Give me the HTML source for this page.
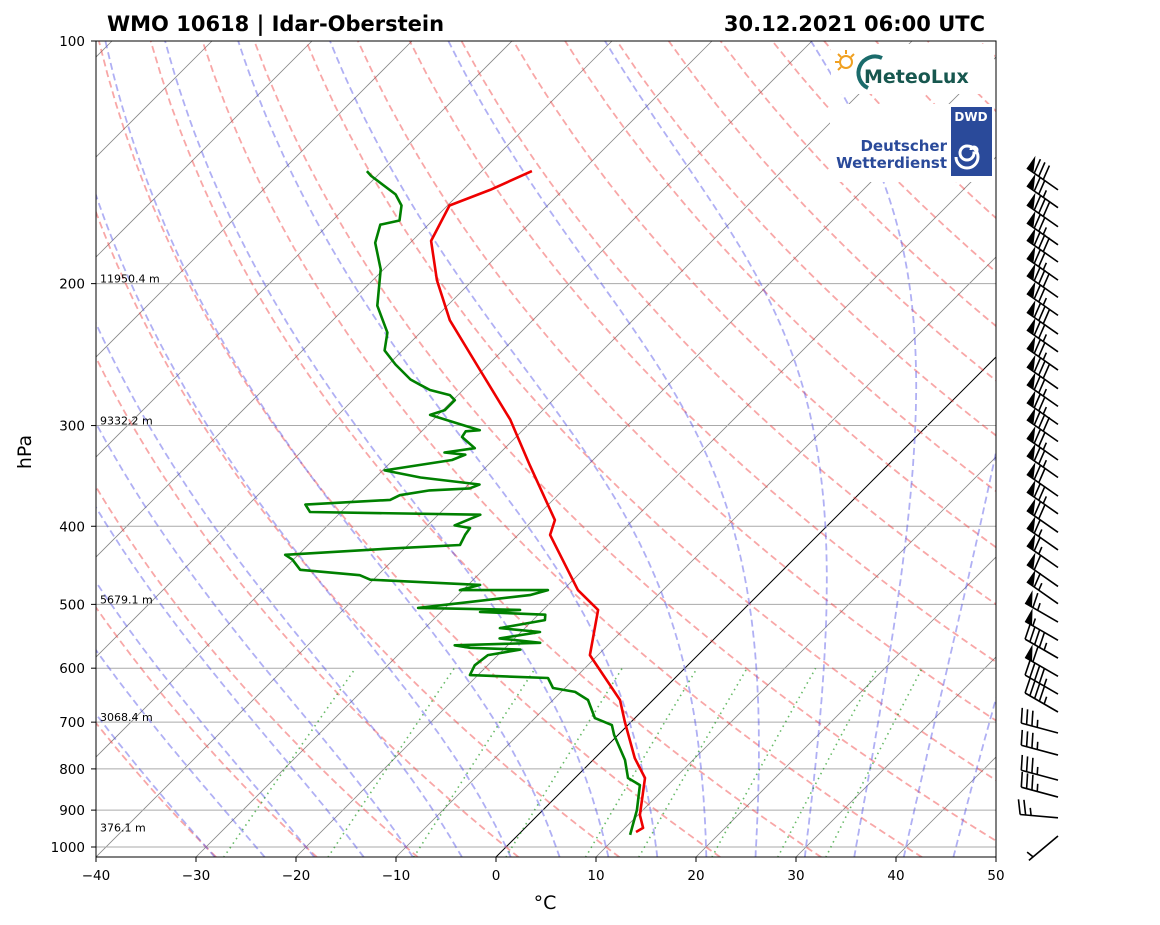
<!DOCTYPE html>
<html><head><meta charset="utf-8">
<style>
body{margin:0;background:#fff;}
svg{display:block;font-family:"DejaVu Sans","Liberation Sans",sans-serif;}
</style></head>
<body>
<svg id="chart" width="1160" height="925" viewBox="0 0 1160 925" xmlns="http://www.w3.org/2000/svg">
<defs><clipPath id="plotclip"><rect x="96" y="41" width="900" height="816"/></clipPath></defs>
<rect x="0" y="0" width="1160" height="925" fill="#fff"/>
<text x="107" y="31" font-size="21" font-weight="bold">WMO 10618 | Idar-Oberstein</text>
<text x="985" y="31" font-size="21" font-weight="bold" text-anchor="end">30.12.2021 06:00 UTC</text>
<g id="bg" clip-path="url(#plotclip)"></g>
<g id="series" clip-path="url(#plotclip)"></g>
<g id="logos">
  <rect x="831" y="44" width="163" height="50" fill="#fff"/>
  <g>
    <circle cx="846" cy="62" r="6" fill="none" stroke="#f0a020" stroke-width="2"/>
    <path d="M846 50v4M835 62h4M838 54l3 3M854 54l-3 3M838 70l3-3" stroke="#f0a020" stroke-width="2"/>
    <path d="M882 58 A16 16 0 1 0 868 88" fill="none" stroke="#1a6b6b" stroke-width="4"/>
    <text x="864" y="83" font-size="19" font-weight="bold" fill="#17574f">MeteoLux</text>
  </g>
  <rect x="830" y="104" width="164" height="78" fill="#fff"/>
  <g>
    <rect x="951" y="107" width="41" height="69" fill="#2a4a9a"/>
    <text x="971" y="121" font-size="12" font-weight="bold" fill="#fff" text-anchor="middle">DWD</text>
    <path d="M971 150 a3 3 0 1 1 3 3 a7 7 0 1 1 -7 -7 a11 11 0 1 1 -11 11" fill="none" stroke="#fff" stroke-width="3"/>
    <text x="947" y="151" font-size="15" font-weight="bold" fill="#2a4a9a" text-anchor="end">Deutscher</text>
    <text x="947" y="168" font-size="15" font-weight="bold" fill="#2a4a9a" text-anchor="end">Wetterdienst</text>
  </g>
</g>
<g id="axes"></g>
<g id="barbs"></g>
<text x="545" y="909" font-size="19" text-anchor="middle">°C</text>
<text transform="translate(31,452) rotate(-90)" font-size="19" text-anchor="middle">hPa</text>
</svg>
<script>
// ---- data ----
const tempP = [958,947,913,821,776,700,657,578,508,480,410,393,336,295,256,222,198,177,160,153,145];
const tempT = [11.5,11.8,10.2,7.0,4.0,-0.6,-3.3,-10.8,-14.5,-18.5,-26.8,-27.8,-35.8,-42.3,-50.3,-58.3,-63.6,-68.1,-69.8,-67.3,-65.0];
const dewP = [966,900,838,821,780,726,706,692,657,642,635,617,612,595,578,569,566,562,558,551,541,535,523,515,511,508,505,487,480,480,473,466,460,453,440,434,426,422,410,402,399,387,384,376,371,366,361,359,355,348,341,331,326,324,320,310,305,304,299,291,287,279,275,271,267,263,252,242,230,213,192,178,169,167,160,155,147,145];
const dewT = [11.2,9.4,7.2,5.3,3.2,-0.4,-1.6,-4.0,-6.5,-8.6,-11.2,-12.7,-20.8,-21.3,-21.0,-18.3,-23.5,-25.3,-17.0,-21.5,-18.1,-22.5,-18.8,-19.3,-26.1,-22.3,-32.7,-22.8,-21.5,-30.3,-28.8,-40.3,-41.8,-48.3,-50.1,-51.3,-41.0,-34.8,-35.3,-35.5,-37.3,-35.8,-53.1,-54.3,-46.3,-45.8,-43.3,-39.5,-38.9,-45.5,-49.8,-44.1,-43.3,-45.6,-43.0,-45.4,-45.6,-44.3,-46.8,-50.8,-49.8,-49.8,-50.8,-53.3,-54.8,-56.3,-59.3,-61.8,-63.3,-67.0,-70.3,-73.5,-74.8,-73.3,-74.6,-76.3,-80.6,-81.5];
const heightP = [200,300,500,700,960];
const heightLabels = ["11950.4 m","9332.2 m","5679.1 m","3068.4 m","376.1 m"];
const pTicks = [100,200,300,400,500,600,700,800,900,1000];
const tTicks = [-40,-30,-20,-10,0,10,20,30,40,50];
const dryT0 = [-30,-20,-10,0,10,20,30,40,50,60,70,80,90,100,110,120,130,140,150,160,170,180,190,200];
const moistT0 = [-30,-25,-20,-15,-10,-5,0,5,10,15,20,25,30,35,40,45];
const mixW = [0.0004,0.001,0.002,0.004,0.007,0.01,0.016,0.024,0.032];
const barbP = [153,161,170,179,188,198,208,219,231,243,256,270,284,299,314,331,348,367,386,407,428,450,475,499,526,554,583,614,646,680,722,769,826,867,920,969];
const barbSpd = [80,75,80,75,80,75,80,75,80,75,75,80,75,75,80,75,75,70,75,70,65,65,60,65,65,55,45,60,45,45,35,35,35,35,25,5];
const barbDir = [305,305,305,305,305,305,305,305,305,305,305,305,305,305,305,305,305,305,305,305,305,305,305,305,300,300,300,300,300,300,285,285,285,285,275,230];

// ---- axis functions ----
const X0=96, PX=10, YT=41, YB=857, DEC=806;
function yOf(p){return YT + Math.log10(p/100)*DEC;}
function xOf(T,p){return X0 + (T+40)*PX + (YB - yOf(p));}
const NS='http://www.w3.org/2000/svg';
function mk(tag, attrs, parent){const e=document.createElementNS(NS,tag);for(const k in attrs)e.setAttribute(k,attrs[k]);parent.appendChild(e);return e;}
function pathFrom(pts){return pts.map((q,i)=>(i?'L':'M')+q[0].toFixed(1)+' '+q[1].toFixed(1)).join('');}
const bg=document.getElementById('bg'), series=document.getElementById('series'), axes=document.getElementById('axes'), barbs=document.getElementById('barbs');
const pList=[]; for(let p=1030;p>=100;p-=10)pList.push(p);

for(let T=-130;T<=50;T+=10){
  const e=mk('line',{x1:xOf(T,1030),y1:yOf(1030),x2:xOf(T,100),y2:yOf(100),stroke:T===0?'#000':'#888',"stroke-width":T===0?1:0.8},bg);
  
  
}
for(const p of pTicks){ if(p===100) continue;
  const e=mk('line',{x1:96,y1:yOf(p),x2:996,y2:yOf(p),stroke:'#aaa',"stroke-width":1},bg);
  
  
}
for(const t0 of dryT0){
  const th=t0+273.15; const pts=pList.map(p=>[xOf(th*Math.pow(p/1000,0.2857)-273.15,p),yOf(p)]);
  const e=mk('path',{d:pathFrom(pts),fill:'none',stroke:'rgba(240,60,60,0.45)',"stroke-width":1.8,"stroke-dasharray":"7,4"},bg);
  
  
}
function es(Tc){return 6.112*Math.exp(17.67*Tc/(Tc+243.5));}
function dTdp(T,p){const Tc=T-273.15;const e=es(Tc);const rs=0.622*e/(p-e);const Rd=287,Cp=1005,Lv=2.5e6;
  return (Rd*T+Lv*rs)/(p*(Cp+Lv*Lv*rs*0.622/(Rd*T*T)));}
for(const t0 of moistT0){
  let T=t0+273.15,p=1000; const up=[[xOf(t0,1000),yOf(1000)]];
  while(p>100){const dp=-5;T+=dTdp(T,p)*dp;p+=dp;up.push([xOf(T-273.15,p),yOf(p)]);}
  T=t0+273.15;p=1000;const dn=[];
  while(p<1030){const dp=5;T+=dTdp(T,p)*dp;p+=dp;dn.push([xOf(T-273.15,p),yOf(p)]);}
  const pts=dn.reverse().concat(up);
  const e=mk('path',{d:pathFrom(pts),fill:'none',stroke:'rgba(80,80,230,0.45)',"stroke-width":1.8,"stroke-dasharray":"7,4"},bg);
  
  
}
for(const w of mixW){
  const pts=[];for(let p=1030;p>=600;p-=10){const e=w*p/(0.622+w);const l=Math.log(e/6.112);const Td=243.5*l/(17.67-l);pts.push([xOf(Td,p),yOf(p)]);}
  const e=mk('path',{d:pathFrom(pts),fill:'none',stroke:'rgba(0,140,0,0.6)',"stroke-width":1.6,"stroke-dasharray":"1.5,4"},bg);
  
  
}
const tl=mk('path',{d:pathFrom(tempP.map((p,i)=>[xOf(tempT[i],p),yOf(p)])),fill:'none',stroke:'#e00',"stroke-width":2.6,"stroke-linejoin":"round"},series);


const dl=mk('path',{d:pathFrom(dewP.map((p,i)=>[xOf(dewT[i],p),yOf(p)])),fill:'none',stroke:'#008000',"stroke-width":2.6,"stroke-linejoin":"round"},series);


heightP.forEach((p,i)=>{const t=mk('text',{x:100,y:yOf(p)-1,"font-size":11},series);t.textContent=heightLabels[i];
  
  });
const fr=mk('rect',{x:96,y:41,width:900,height:816,fill:'none',stroke:'#000',"stroke-width":1},axes);


for(const p of pTicks){const y=yOf(p);mk('line',{x1:91,y1:y,x2:96,y2:y,stroke:'#000'},axes);
  const t=mk('text',{x:85,y:y+5,"font-size":13.5,"text-anchor":"end"},axes);t.textContent=p;
  
  }
for(const T of tTicks){const x=X0+(T+40)*PX;mk('line',{x1:x,y1:857,x2:x,y2:862,stroke:'#000'},axes);
  const t=mk('text',{x:x,y:880,"font-size":13.5,"text-anchor":"middle"},axes);t.textContent=(T<0?'\u2212'+(-T):T);
  
  }
const BX=1058, L=38;
barbP.forEach((p,i)=>{
  const by=yOf(p), d=barbDir[i]*Math.PI/180;
  const ux=Math.sin(d), uy=-Math.cos(d), nx=-uy, ny=ux;
  const g=mk('g',{},barbs);
  
  
  const tx=BX+ux*L, ty=by+uy*L;
  mk('line',{x1:BX,y1:by,x2:tx,y2:ty,stroke:'#000',"stroke-width":1.6},g);
  let s=Math.round(barbSpd[i]/5)*5, pos=0; const sp=5.5, h=15;
  while(s>=50){const ax=tx-ux*pos, ay=ty-uy*pos, bx2=tx-ux*(pos+8), by2=ty-uy*(pos+8);
    mk('polygon',{points:`${ax},${ay} ${ax+nx*h},${ay+ny*h} ${bx2},${by2}`,fill:'#000'},g);pos+=9;s-=50;}
  while(s>=10){const ax=tx-ux*pos, ay=ty-uy*pos;
    mk('line',{x1:ax,y1:ay,x2:ax+nx*h+ux*3,y2:ay+ny*h+uy*3,stroke:'#000',"stroke-width":1.6},g);pos+=sp;s-=10;}
  if(s>=5){if(pos===0)pos=sp;const ax=tx-ux*pos, ay=ty-uy*pos;
    mk('line',{x1:ax,y1:ay,x2:ax+nx*h*0.5+ux*1.5,y2:ay+ny*h*0.5+uy*1.5,stroke:'#000',"stroke-width":1.6},g);}
});
</script>
</body></html>
